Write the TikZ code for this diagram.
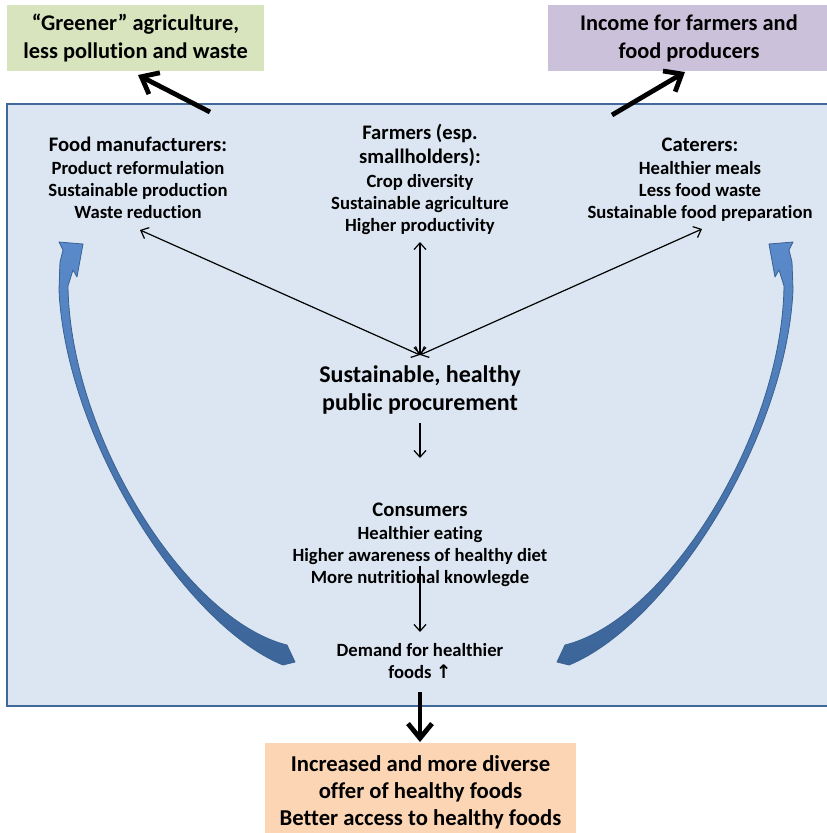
\documentclass[tikz,border=0pt]{standalone}
\usepackage{fontspec}
\setmainfont{Carlito}[Ligatures=NoCommon]
\newfontfamily\symfont{DejaVu Sans}
\usetikzlibrary{arrows.meta}
% keep "t" and "i" as separate glyphs (no joined ti form)
\XeTeXinterchartokenstate=1
\newXeTeXintercharclass\tletter
\newXeTeXintercharclass\iletter
\XeTeXcharclass`t=\tletter
\XeTeXcharclass`i=\iletter
\XeTeXinterchartoks\tletter\iletter={\kern0pt }
\definecolor{greenfill}{HTML}{D7E4BD}
\definecolor{purplefill}{HTML}{CCC1DA}
\definecolor{orangefill}{HTML}{FCD5B5}
\definecolor{panelfill}{HTML}{DCE6F2}
\definecolor{panelline}{HTML}{41689A}
\definecolor{loopTop}{HTML}{5A8ACB}
\definecolor{loopBottom}{HTML}{3C6599}
\definecolor{loopEdge}{HTML}{3A6291}
\newcommand\headfont{\fontsize{15.5}{18}\selectfont}
\begin{document}
\begin{tikzpicture}[x=0.75pt, y=-0.75pt,
  outbox/.style={inner sep=0, align=center, font=\fontsize{16.8}{21}\selectfont\bfseries},
  group/.style={inner sep=0, align=center, font=\fontsize{14}{16.5}\selectfont\bfseries},
  thin link/.style={line width=0.9pt, {Straight Barb[length=5pt,width=9pt]}-{Straight Barb[length=5pt,width=9pt]}},
  down link/.style={line width=0.9pt, -{Straight Barb[length=5pt,width=9pt]}},
  bold link/.style={line width=3.6pt, -{Straight Barb[length=11pt,width=18pt]}},
  loop arrow/.style={top color=loopTop, bottom color=loopBottom, draw=loopEdge, line width=0.6pt, line join=round}]
\useasboundingbox (0,0) rectangle (827,833);

% outcome boxes
\node[outbox, fill=greenfill, minimum width=192.75pt, minimum height=49.5pt] (green) at (135.5,38)
  {“Greener” agriculture,\\less pollution and waste};
\node[outbox, fill=purplefill, minimum width=211.5pt, minimum height=49.5pt] (purple) at (689,38)
  {Income for farmers and\\food producers};

% central panel
\node[draw=panelline, line width=1.8pt, fill=panelfill, minimum width=617.25pt, minimum height=451.5pt, inner sep=0] (panel) at (418.5,405) {};

\node[outbox, fill=orangefill, minimum width=233.25pt, minimum height=73.5pt, font=\fontsize{17}{20.3}\selectfont\bfseries] (orange) at (420.5,792)
  {Increased and more diverse\\offer of healthy foods\\Better access to healthy foods};

% feedback loops
\def\looppath{(59,242) -- (83,244) -- (77,277) -- (73,270) -- (68,286)
  .. controls (70,436) and (186,620) .. (287,645)
  -- (295,662) -- (283,665)
  .. controls (185,625) and (66,440) .. (59,290) -- (60,262) -- (63,250) -- cycle}
\draw[loop arrow] \looppath;
\begin{scope}[shift={(852,0)}, xscale=-1]
\draw[loop arrow] \looppath;
\end{scope}

% actors
\node[group] (fm) at (138,178)
  {{\headfont Food manufacturers:}\\[1pt]Product reformulation\\Sustainable production\\Waste reduction};
\node[group] (farm) at (420,179.5)
  {{\headfont Farmers (esp.}\\[1.5pt]{\headfont smallholders):}\\[1pt]Crop diversity\\Sustainable agriculture\\Higher productivity};
\node[group] (cat) at (700,180)
  {{\headfont Caterers:}\\[1pt]Healthier meals\\Less food waste\\Sustainable food preparation};
\node[inner sep=0, align=center, font=\fontsize{18}{21}\selectfont\bfseries] (proc) at (420,390)
  {Sustainable, healthy\\public procurement};
\node[group] (cons) at (420,544.5)
  {{\headfont Consumers}\\[1pt]Healthier eating\\Higher awareness of healthy diet\\More nutritional knowlegde};
\node[group] (dem) at (420,661)
  {Demand for healthier\\foods {\symfont ↑}};

% connector ends
\coordinate (hub) at (420,355);
\coordinate (fmtip) at (140,230);
\coordinate (farmtip) at (420,242);
\coordinate (cattip) at (702,229);
\coordinate (procout) at (420,423);
\coordinate (consin) at (420,458);
\coordinate (consout) at (420,566);
\coordinate (demin) at (420,632);
\coordinate (greenfrom) at (210,112);
\coordinate (greento) at (138,75);
\coordinate (purplefrom) at (612,115);
\coordinate (purpleto) at (685,72);
\coordinate (demout) at (420,692);
\coordinate (orangein) at (420,742);

\draw[thin link] (hub) -- (fmtip);
\draw[thin link] (hub) -- (farmtip);
\draw[thin link] (hub) -- (cattip);
\draw[down link] (procout) -- (consin);
\draw[down link] (consout) -- (demin);
\draw[bold link] (greenfrom) -- (greento);
\draw[bold link] (purplefrom) -- (purpleto);
\draw[bold link] (demout) -- (orangein);
\end{tikzpicture}
\end{document}
